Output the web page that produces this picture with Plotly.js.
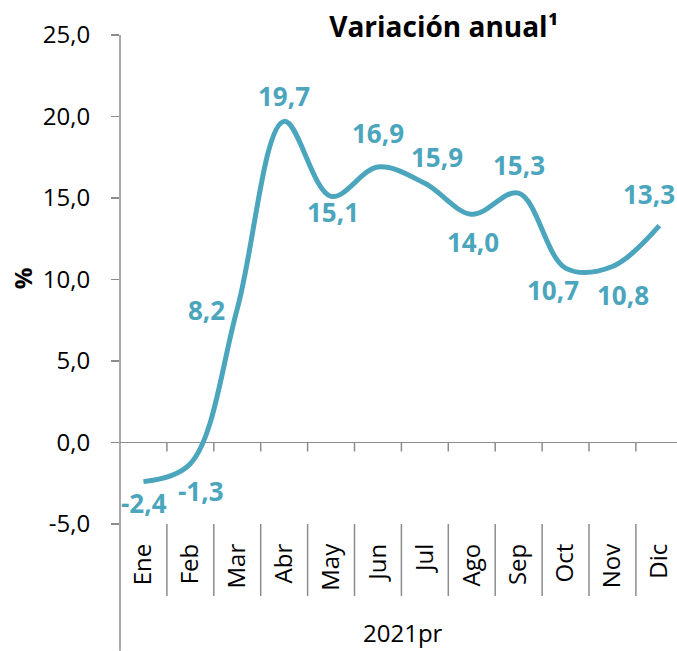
<!DOCTYPE html>
<html>
<head>
<meta charset="utf-8">
<script src="https://cdn.plot.ly/plotly-3.0.1.min.js"></script>
<style>
html,body{margin:0;padding:0;background:#fff;}
#chart{width:677px;height:651px;}
</style>
</head>
<body>
<div id="chart"></div>
<script>
// ---- data ----
const months = ['Ene','Feb','Mar','Abr','May','Jun','Jul','Ago','Sep','Oct','Nov','Dic'];
const values = [-2.4, -1.3, 8.2, 19.7, 15.1, 16.9, 15.9, 14.0, 15.3, 10.7, 10.8, 13.3];
const valueLabels = ['-2,4','-1,3','8,2','19,7','15,1','16,9','15,9','14,0','15,3','10,7','10,8','13,3'];
const yTickVals = [-5, 0, 5, 10, 15, 20, 25];
const yTickText = ['-5,0','0,0','5,0','10,0','15,0','20,0','25,0'];
const titleText = 'Variación anual¹';
const yTitle = '%';
const xGroupLabel = '2021pr';

// ---- styles / label offsets (px) ----
const lineColor = '#4aa5bd';
const axisGrey = '#8c8c8c';
const FONT = '"Open Sans", "Noto Sans", sans-serif';
const labelShiftX = [1, 11, -31, 0, 2, 0, 12, 1, 0, -13, 11, -10];
const labelShiftY = [-21.5, -27.5, -1.5, 25, -15.5, 34.5, 26, -28, 28.5, -21.5, -29, 32];

const W = 677, H = 651;
const margin = {l: 120, r: 0, t: 34.5, b: 127};
const plotH = H - margin.t - margin.b;
const nCat = months.length;
const xRange = [-0.5, -0.5 + (W - margin.l) / 46.9];
const idx = months.map((_, i) => i);

const annotations = values.map((v, i) => ({
  x: i, y: v, xref: 'x', yref: 'y',
  text: valueLabels[i], showarrow: false,
  xshift: labelShiftX[i], yshift: labelShiftY[i],
  font: {family: FONT, size: 26, color: lineColor, weight: 'bold'}
}));
annotations.push({
  x: (403 - margin.l) / (W - margin.l), y: -(633 - (H - margin.b)) / plotH,
  xref: 'paper', yref: 'paper', showarrow: false, text: xGroupLabel,
  xanchor: 'center', yanchor: 'middle',
  font: {family: FONT, size: 24, color: '#000'}
});
annotations.push({
  x: -(margin.l - 22) / (W - margin.l), y: 0.5 - (278 - (margin.t + plotH / 2)) / plotH,
  xref: 'paper', yref: 'paper', showarrow: false, text: yTitle, textangle: -90,
  xanchor: 'center', yanchor: 'middle',
  font: {family: FONT, size: 24, color: '#000', weight: 'bold'}
});

const shapes = [];
// extended vertical axis line
shapes.push({type: 'line', xref: 'paper', yref: 'paper', x0: 0, x1: 0,
  y0: 1, y1: -(H - (H - margin.b)) / plotH, line: {color: axisGrey, width: 1.5}});
for (let k = 0; k < nCat - 1; k++) {
  // small ticks under zero line
  shapes.push({type: 'line', xref: 'x', yref: 'y', x0: k + 0.5, x1: k + 0.5,
    y0: 0, y1: -9 / (plotH / 30), line: {color: axisGrey, width: 1.5}});
  // category separators
  shapes.push({type: 'line', xref: 'x', yref: 'paper', x0: k + 0.5, x1: k + 0.5,
    y0: 0, y1: -72 / plotH, line: {color: axisGrey, width: 1.5}});
}

const trace = {
  x: idx, y: values, type: 'scatter', mode: 'lines',
  line: {color: lineColor, width: 5, shape: 'spline', smoothing: 1},
  hoverinfo: 'skip', cliponaxis: false
};

const layout = {
  width: W, height: H, margin: margin,
  paper_bgcolor: '#fff', plot_bgcolor: 'rgba(0,0,0,0)',
  showlegend: false,
  font: {family: FONT, color: '#000'},
  title: {text: titleText, x: 393.5 / W, xref: 'paper', xanchor: 'center',
    y: 1 - 27 / H, yref: 'container', yanchor: 'middle',
    font: {family: FONT, size: 28, color: '#000', weight: 'bold'}},
  xaxis: {range: xRange, tickvals: idx, ticktext: months, tickangle: -90,
    ticks: '', showgrid: false, zeroline: false, showline: false,
    tickfont: {family: FONT, size: 24, color: '#000'},
    ticklabelstandoff: 14, automargin: false, fixedrange: true},
  yaxis: {range: [-5, 25], tickvals: yTickVals, ticktext: yTickText,
    ticks: 'outside', ticklen: 8, tickwidth: 1.5, tickcolor: axisGrey,
    showline: false, showgrid: false,
    zeroline: true, zerolinecolor: axisGrey, zerolinewidth: 1.5,
    tickfont: {family: FONT, size: 24, color: '#000'},
    ticklabelstandoff: 16, automargin: false, fixedrange: true},
  annotations: annotations,
  shapes: shapes
};

Plotly.newPlot('chart', [trace], layout, {staticPlot: true, displayModeBar: false});
</script>
</body>
</html>
